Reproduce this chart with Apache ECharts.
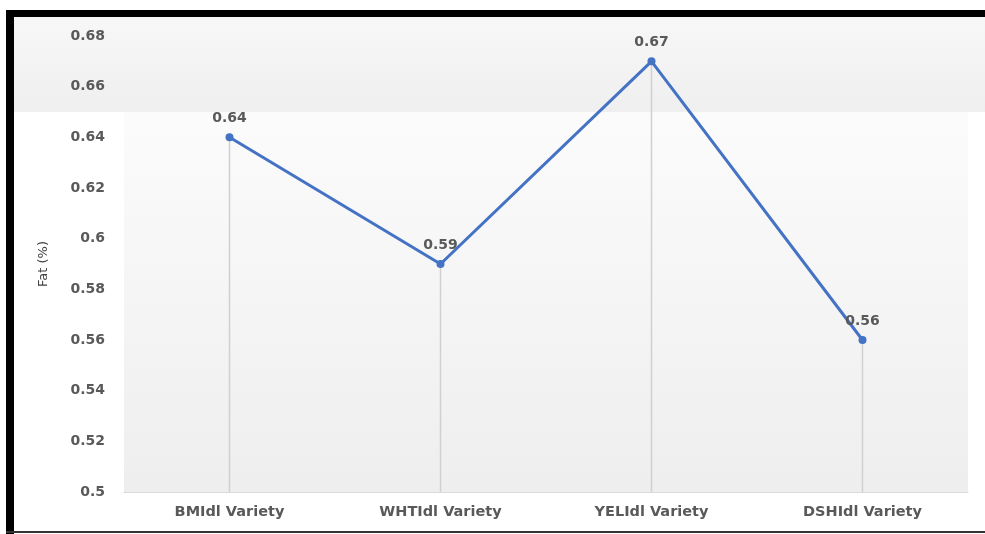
<!DOCTYPE html>
<html>
<head>
<meta charset="utf-8">
<script src="https://cdn.jsdelivr.net/npm/echarts@6/dist/echarts.min.js"></script>
<style>
  body { margin: 0; background: #fff; }
  #main { width: 985px; height: 534px; }
</style>
</head>
<body>
<div id="main"></div>
<script>
// data
var categories = ['BMIdl Variety', 'WHTIdl Variety', 'YELIdl Variety', 'DSHIdl Variety']
var fatValues = [0.64, 0.59, 0.67, 0.56]
var yTicks = { min: 0.5, max: 0.68, step: 0.02 }

var myChart = echarts.init(document.getElementById('main'))
var labelFont = 'DejaVu Sans'

var option = {
  backgroundColor: '#ffffff',
  animation: false,
  graphic: [
    // header band
    {
      type: 'rect', z: 1, silent: true,
      shape: { x: 14, y: 17, width: 971, height: 95 },
      style: {
        fill: new echarts.graphic.LinearGradient(0, 0, 0, 1, [
          { offset: 0, color: '#f7f7f7' },
          { offset: 1, color: '#efefef' }
        ])
      }
    },
    // frame
    { type: 'rect', z: 10, silent: true, shape: { x: 6, y: 10, width: 979, height: 7 }, style: { fill: '#000' } },
    { type: 'rect', z: 10, silent: true, shape: { x: 6, y: 10, width: 8, height: 524 }, style: { fill: '#000' } },
    { type: 'rect', z: 10, silent: true, shape: { x: 6, y: 531, width: 979, height: 2 }, style: { fill: '#333' } }
  ],
  grid: {
    left: 124,
    right: 17,
    top: 36,
    bottom: 42,
    show: true,
    borderWidth: 0,
    backgroundColor: new echarts.graphic.LinearGradient(0, 0, 0, 1, [
      { offset: 0, color: '#fefefe' },
      { offset: 1, color: '#eeeeee' }
    ])
  },
  xAxis: {
    type: 'category',
    z: 5,
    data: categories,
    axisTick: { show: false },
    axisLine: { show: true, lineStyle: { color: '#d9d9d9', width: 1 } },
    axisLabel: {
      color: '#595959',
      fontFamily: labelFont,
      fontWeight: 'bold',
      fontSize: 14.5,
      margin: 13
    }
  },
  yAxis: {
    type: 'value',
    z: 5,
    min: yTicks.min,
    max: yTicks.max,
    interval: yTicks.step,
    name: 'Fat (%)',
    nameLocation: 'middle',
    nameRotate: 90,
    nameGap: 74,
    nameTextStyle: { color: '#404040', fontFamily: labelFont, fontSize: 13 },
    axisLine: { show: false },
    axisTick: { show: false },
    splitLine: { show: false },
    axisLabel: {
      color: '#595959',
      fontFamily: labelFont,
      fontWeight: 'bold',
      fontSize: 14,
      margin: 19,
      formatter: function (v) {
        return String(Math.round(v * 100) / 100)
      }
    }
  },
  series: [
    {
      // drop lines
      name: 'drop',
      type: 'bar',
      z: 2,
      barWidth: 1.5,
      silent: true,
      itemStyle: { color: '#d0d0d0' },
      data: fatValues
    },
    {
      name: 'Fat',
      type: 'line',
      z: 3,
      data: fatValues,
      symbol: 'circle',
      symbolSize: 8,
      lineStyle: { color: '#4472c4', width: 3 },
      itemStyle: { color: '#4472c4' },
      label: {
        show: true,
        position: 'top',
        distance: 8,
        color: '#595959',
        fontFamily: labelFont,
        fontWeight: 'bold',
        fontSize: 14
      }
    }
  ]
}

myChart.setOption(option)
</script>
</body>
</html>
